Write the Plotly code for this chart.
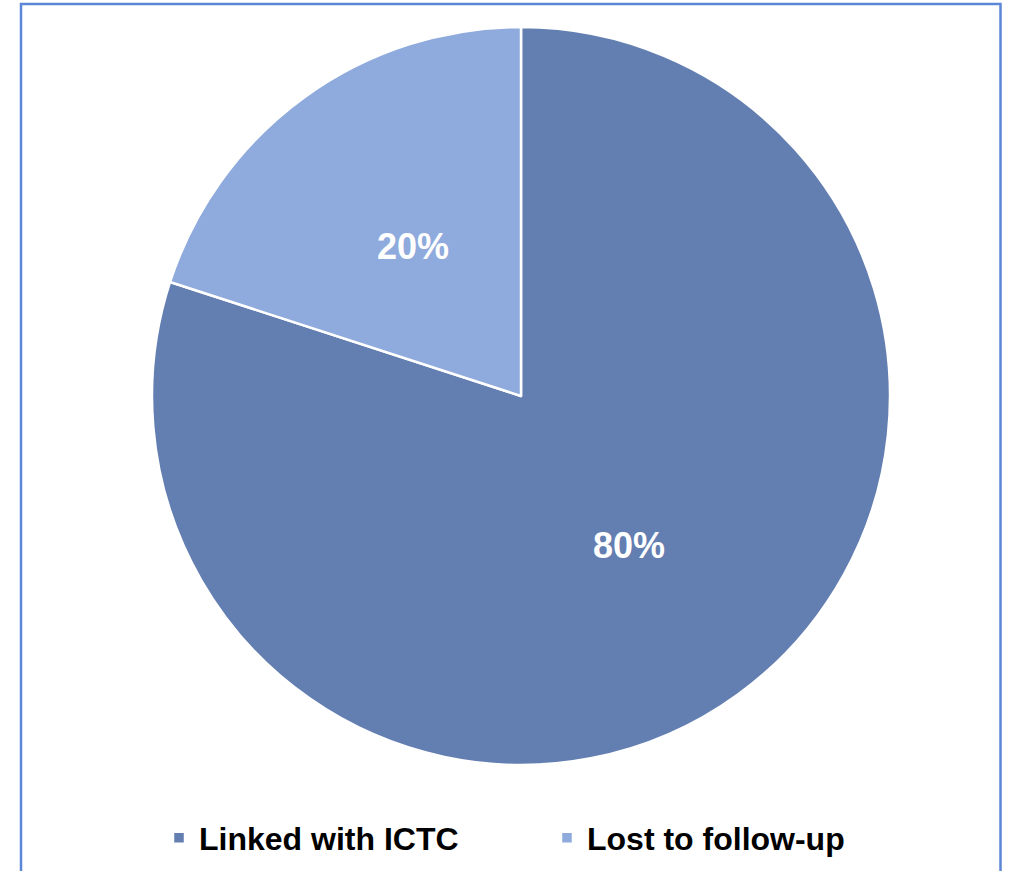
import math
import plotly.graph_objects as go

# Outcome of referred clients
categories = ["Linked with ICTC", "Lost to follow-up"]
shares = [80, 20]
slice_colors = ["#637EB1", "#8FAADC"]

W, H = 1010, 871

# pie placement in pixels (centre and radius), converted to paper fractions
cx_px, cy_px, r_px = 521, 396, 369
dom_x = [(cx_px - r_px) / W, (cx_px + r_px) / W]
dom_y = [(H - cy_px - r_px) / H, (H - cy_px + r_px) / H]

fig = go.Figure(
    go.Pie(
        labels=categories,
        values=shares,
        sort=False,
        direction="clockwise",
        rotation=0,
        marker=dict(colors=slice_colors, line=dict(color="white", width=2.5)),
        textinfo="none",
        hoverinfo="label+percent",
        domain=dict(x=dom_x, y=dom_y),
    )
)

# percentage labels at half radius on each slice's bisector
total = sum(shares)
start = 0.0
for val in shares:
    frac = val / total
    mid = 2 * math.pi * (start + frac / 2)
    start += frac
    x_px = cx_px + 0.5 * r_px * math.sin(mid)
    y_px = cy_px - 0.5 * r_px * math.cos(mid)
    fig.add_annotation(
        x=x_px / W, y=(H - y_px) / H,
        xref="paper", yref="paper",
        text=f"{round(100 * frac)}%",
        showarrow=False,
        xanchor="center", yanchor="middle",
        font=dict(family="Liberation Sans", size=36, color="white", weight="bold"),
    )

# frame around the chart area (bottom edge runs past the page)
fig.add_shape(
    type="rect",
    xref="paper", yref="paper",
    x0=21 / W, x1=1000.5 / W,
    y0=-20 / H, y1=(H - 4) / H,
    line=dict(color="#5B87D6", width=2.5),
    fillcolor="rgba(0,0,0,0)",
)

fig.update_layout(
    width=W,
    height=H,
    margin=dict(l=0, r=0, t=0, b=0),
    paper_bgcolor="white",
    plot_bgcolor="white",
    showlegend=True,
    legend=dict(
        orientation="h",
        x=159 / W,
        xanchor="left",
        y=(H - 838) / H,
        yanchor="middle",
        font=dict(family="Liberation Sans", size=32, color="black", weight="bold"),
        entrywidth=343,
        entrywidthmode="pixels",
        itemclick=False,
        bgcolor="rgba(0,0,0,0)",
    ),
)

fig.write_html("out.html")
